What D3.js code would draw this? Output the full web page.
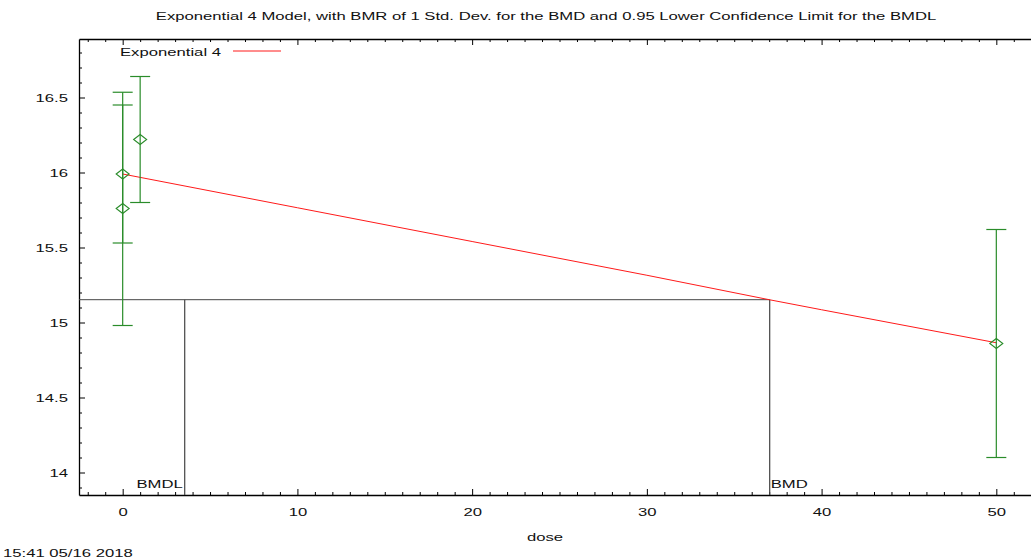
<!DOCTYPE html>
<html>
<head>
<meta charset="utf-8">
<script src="https://cdn.jsdelivr.net/npm/d3@7"></script>
<style>
  body { margin: 0; background: #fff; }
  text { font-family: "Liberation Sans", Arial, sans-serif; font-size: 11.5px; fill: #111; }
</style>
</head>
<body>
<script>
let doses = [0, 0, 1, 50];
let means = [15.99, 15.76, 16.22, 14.86];
let lower = [15.53, 14.98, 15.80, 14.10];
let upper = [16.45, 16.535, 16.64, 15.62];

// fitted Exponential 4 curve, read at a few doses
let modelDose = [0, 10, 20, 30, 37, 40, 50];
let modelResp = [15.99, 15.765, 15.54, 15.315, 15.152, 15.085, 14.865];

let bmd = 37.03;
let bmdl = 3.55;
let bmrResp = 15.152;

let xTicks = [0, 10, 20, 30, 40, 50];
let yTicks = [14, 14.5, 15, 15.5, 16, 16.5];

let width = 1031;
let height = 559;
let sx = 1.45; // text in the original is stretched sideways

let svg = d3.select('body').append('svg')
            .attr('width', width)
            .attr('height', height);

let x = d3.scaleLinear().domain([-2.5, 52.5]).range([79, 1040]);
let y = d3.scaleLinear().domain([13.85, 16.89]).range([495, 39]);

function stretch(sel) {
  sel.each(function() {
    let t = d3.select(this);
    let tx = +t.attr('x') || 0;
    t.attr('x', tx / sx).attr('transform', `scale(${sx},1)`);
  });
}

function label(str, px, py, anchor) {
  svg.append('text')
     .attr('transform', `translate(${px},${py}) scale(${sx},1)`)
     .attr('text-anchor', anchor || 'start')
     .text(str);
}

let xMinor = d3.range(-2, 53, 1).filter(v => v % 10 != 0);
let yMinor = d3.range(139, 169, 1).map(v => v / 10).filter(v => Math.round(v * 10) % 5 != 0);

// bottom axis
let axB = svg.append('g').attr('transform', `translate(0,${y.range()[0]})`);
axB.call(d3.axisBottom(x).tickValues(xTicks).tickSizeInner(-6).tickSizeOuter(0).tickPadding(13));
axB.append('g').call(d3.axisBottom(x).tickValues(xMinor).tickSizeInner(-3).tickSizeOuter(0).tickFormat(''))
   .select('.domain').remove();

// top axis
let axT = svg.append('g').attr('transform', `translate(0,${y.range()[1]})`);
axT.call(d3.axisTop(x).tickValues(xTicks).tickSizeInner(-6).tickSizeOuter(0).tickFormat(''));
axT.append('g').call(d3.axisTop(x).tickValues(xMinor).tickSizeInner(-3).tickSizeOuter(0).tickFormat(''))
   .select('.domain').remove();

// left axis
let axL = svg.append('g').attr('transform', `translate(${x.range()[0]},0)`);
axL.call(d3.axisLeft(y).tickValues(yTicks).tickSizeInner(-6).tickSizeOuter(0).tickPadding(11).tickFormat(d3.format('')));
axL.append('g').call(d3.axisLeft(y).tickValues(yMinor).tickSizeInner(-3).tickSizeOuter(0).tickFormat(''))
   .select('.domain').remove();

svg.selectAll('.domain').attr('stroke', '#000').attr('stroke-width', 1.3);
svg.selectAll('.tick line').attr('stroke', '#000');
svg.selectAll('.tick text').attr('font-size', null).attr('font-family', null).attr('fill', '#111');
stretch(axB.selectAll('.tick text'));
stretch(axL.selectAll('.tick text'));

// BMD / BMDL guide lines
let guide = '#444';
svg.append('line')
   .attr('x1', x.range()[0]).attr('x2', x(bmd))
   .attr('y1', y(bmrResp)).attr('y2', y(bmrResp))
   .attr('stroke', guide).attr('stroke-width', 1);
svg.append('line')
   .attr('x1', x(bmdl)).attr('x2', x(bmdl))
   .attr('y1', y(bmrResp)).attr('y2', y.range()[0])
   .attr('stroke', guide).attr('stroke-width', 1.2);
svg.append('line')
   .attr('x1', x(bmd)).attr('x2', x(bmd))
   .attr('y1', y(bmrResp)).attr('y2', y.range()[0])
   .attr('stroke', guide).attr('stroke-width', 1.2);
label('BMDL', x(bmdl) - 2, 488, 'end');
label('BMD', x(bmd) + 1, 488, 'start');

// model curve
let model = modelDose.map((d, i) => [d, modelResp[i]]);
svg.append('path')
   .datum(model)
   .attr('d', d3.line().x(d => x(d[0])).y(d => y(d[1])))
   .attr('fill', 'none')
   .attr('stroke', '#ff1a1a')
   .attr('stroke-width', 1);

// error bars + diamonds
let green = '#2a8c2a';
let obs = doses.map((d, i) => ({dose: d, mean: means[i], lo: lower[i], hi: upper[i]}));
let bars = svg.selectAll('g.obs').data(obs).enter().append('g').attr('class', 'obs');
bars.append('line')
    .attr('x1', d => x(d.dose)).attr('x2', d => x(d.dose))
    .attr('y1', d => y(d.lo)).attr('y2', d => y(d.hi))
    .attr('stroke', green).attr('stroke-width', 1.2);
bars.append('line')
    .attr('x1', d => x(d.dose) - 10).attr('x2', d => x(d.dose) + 10)
    .attr('y1', d => y(d.hi)).attr('y2', d => y(d.hi))
    .attr('stroke', green).attr('stroke-width', 1.2);
bars.append('line')
    .attr('x1', d => x(d.dose) - 10).attr('x2', d => x(d.dose) + 10)
    .attr('y1', d => y(d.lo)).attr('y2', d => y(d.lo))
    .attr('stroke', green).attr('stroke-width', 1.2);
bars.append('path')
    .attr('d', d => {
      let cx = x(d.dose), cy = y(d.mean);
      return `M${cx - 6.5},${cy}L${cx},${cy - 5}L${cx + 6.5},${cy}L${cx},${cy + 5}Z`;
    })
    .attr('fill', 'none')
    .attr('stroke', green)
    .attr('stroke-width', 1.1);

// legend
label('Exponential 4', 120, 56, 'start');
svg.append('line')
   .attr('x1', 233).attr('x2', 281)
   .attr('y1', 51).attr('y2', 51)
   .attr('stroke', '#ff1a1a').attr('stroke-width', 1);

// titles
label('Exponential 4 Model, with BMR of 1 Std. Dev. for the BMD and 0.95 Lower Confidence Limit for the BMDL', 546, 20, 'middle');
label('dose', 545, 541, 'middle');
label('15:41 05/16 2018', 3, 557, 'start');
</script>
</body>
</html>
